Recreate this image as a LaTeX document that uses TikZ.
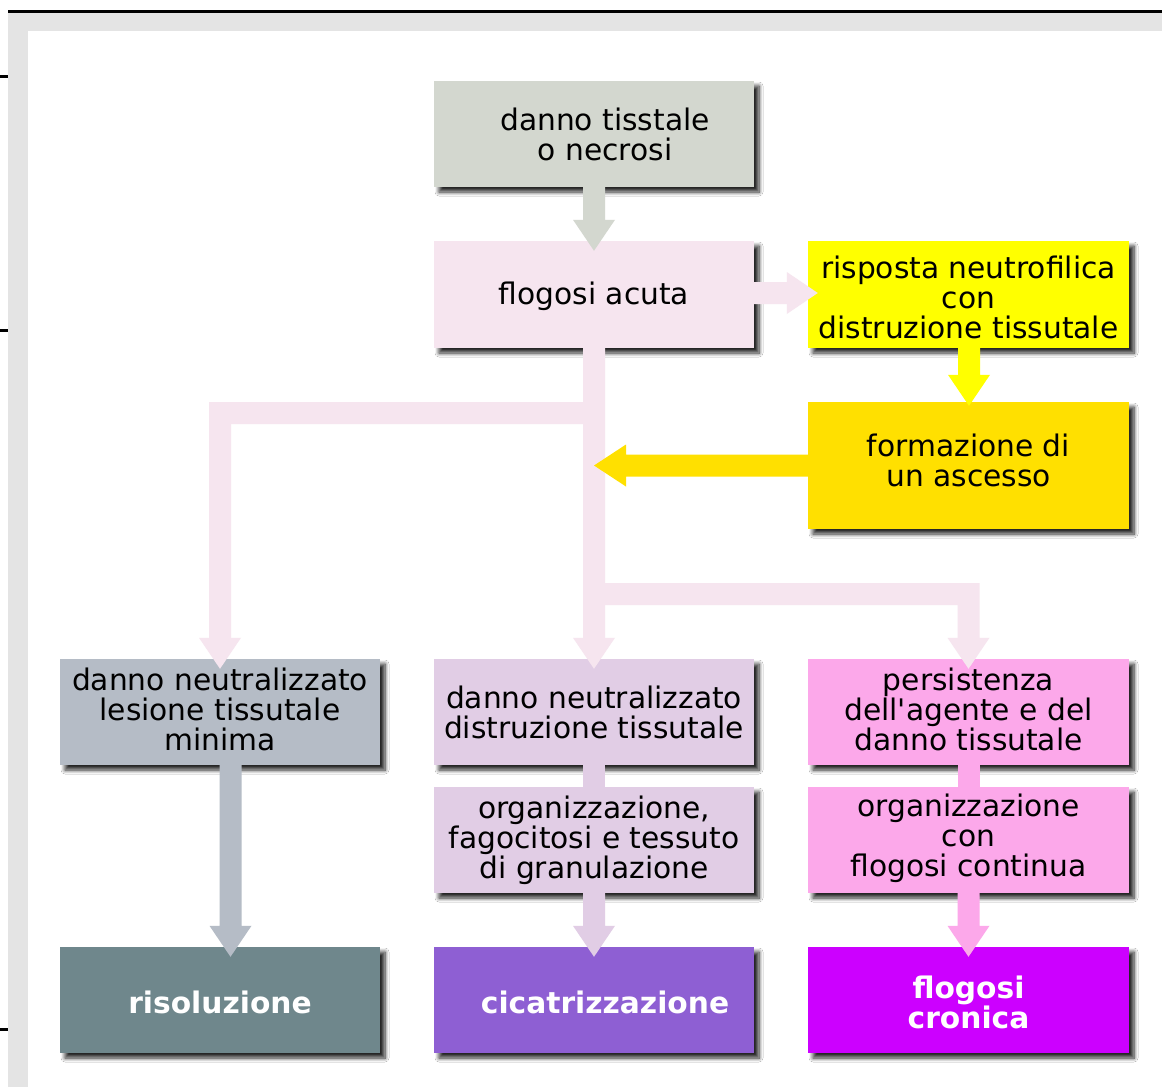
\documentclass[tikz,border=0pt]{standalone}
\usepackage{fontspec}
\setmainfont{DejaVu Sans}[Ligatures=TeXOff]
\usetikzlibrary{shadows.blur,calc}
\pgfdeclarelayer{shadowl}
\pgfdeclarelayer{front}
\pgfsetlayers{shadowl,main,front}
\definecolor{cBa}{HTML}{D3D7CF}
\definecolor{cBb}{HTML}{F6E5EF}
\definecolor{cBc}{HTML}{FFFF00}
\definecolor{cBd}{HTML}{FFE000}
\definecolor{cBe}{HTML}{B5BCC6}
\definecolor{cBf}{HTML}{E1CDE5}
\definecolor{cBg}{HTML}{FCA8EA}
\definecolor{cBj}{HTML}{6F878C}
\definecolor{cBk}{HTML}{8E5FD3}
\definecolor{cBl}{HTML}{CC00FF}
\definecolor{framegrey}{HTML}{E4E4E4}
% vertical block arrow: style, start (shaft centre), tip
\newcommand\blockdown[3]{\path[#1] let \p1=(#2), \p2=(#3) in
  (\x1-11pt,\y1) -- (\x1-11pt,\y2+31pt) -- (\x1-21pt,\y2+31pt) -- (\x1,\y2)
  -- (\x1+21pt,\y2+31pt) -- (\x1+11pt,\y2+31pt) -- (\x1+11pt,\y1) -- cycle;}
\newcommand\blockright[3]{\path[#1] let \p1=(#2), \p2=(#3) in
  (\x1,\y1+11pt) -- (\x2-31pt,\y1+11pt) -- (\x2-31pt,\y1+21pt) -- (\x2,\y1)
  -- (\x2-31pt,\y1-21pt) -- (\x2-31pt,\y1-11pt) -- (\x1,\y1-11pt) -- cycle;}
\newcommand\blockleft[3]{\path[#1] let \p1=(#2), \p2=(#3) in
  (\x1,\y1+11pt) -- (\x2+32pt,\y1+11pt) -- (\x2+32pt,\y1+21pt) -- (\x2,\y1)
  -- (\x2+32pt,\y1-21pt) -- (\x2+32pt,\y1-11pt) -- (\x1,\y1-11pt) -- cycle;}
\newcommand\branchleft[3]{\path[#1] let \p1=(#2), \p2=(#3) in
  (\x1-11pt,\y1+11pt) -- (\x2-11pt,\y1+11pt) -- (\x2-11pt,\y2+31pt) -- (\x2-21pt,\y2+31pt)
  -- (\x2,\y2) -- (\x2+21pt,\y2+31pt) -- (\x2+11pt,\y2+31pt) -- (\x2+11pt,\y1-11pt)
  -- (\x1-11pt,\y1-11pt) -- cycle;}
\newcommand\branchright[3]{\path[#1] let \p1=(#2), \p2=(#3) in
  (\x1+11pt,\y1+11pt) -- (\x2+11pt,\y1+11pt) -- (\x2+11pt,\y2+31pt) -- (\x2+21pt,\y2+31pt)
  -- (\x2,\y2) -- (\x2-21pt,\y2+31pt) -- (\x2-11pt,\y2+31pt) -- (\x2-11pt,\y1-11pt)
  -- (\x1+11pt,\y1-11pt) -- cycle;}
\newcommand\blockbar[3]{\path[#1] let \p1=(#2), \p2=(#3) in
  (\x1-11pt,\y1) rectangle (\x1+11pt,\y2);}
\newcommand\allarrows{%
  \blockdown{ar=cBa}{b1.south}{[yshift=-10pt]b2.north}
  \blockright{ar=cBb}{[yshift=1.5pt]b2.east}{[xshift=10pt,yshift=1.5pt]b3.west}
  \blockdown{ar=cBc}{[xshift=0.5pt]b3.south}{[xshift=0.5pt,yshift=-4pt]b4.north}
  \branchleft{ar=cBb}{s1}{[yshift=-10pt]b5.north}
  \branchright{ar=cBb}{s2}{[yshift=-10pt]b7.north}
  \blockdown{ar=cBb}{b2.south}{[yshift=-10pt]b6.north}
  \blockleft{ar=cBd}{b4.west}{b4.west -| b2.south}
  \blockdown{ar=cBe}{[xshift=10.5pt]b5.south}{[xshift=10.5pt,yshift=-10pt]b10.north}
  \blockbar{ar=cBf}{b6.south}{b8.north}
  \blockdown{ar=cBf}{b8.south}{[yshift=-10pt]b11.north}
  \blockbar{ar=cBg}{b7.south}{b9.north}
  \blockdown{ar=cBg}{b9.south}{[yshift=-10pt]b12.north}
}
\begin{document}
\begin{tikzpicture}[x=1pt,y=-1pt,
  shd/.style={blur shadow={shadow xshift=5pt,shadow yshift=-5pt,shadow blur radius=4pt,shadow blur steps=8,shadow opacity=85}},
  box/.style={rectangle,minimum width=320pt,minimum height=106pt,inner sep=0pt,shd},
  txt/.style={inner sep=0pt,align=center,font=\fontsize{29.7pt}{30pt}\selectfont,text=black},
  endtxt/.style={txt,text=white,font=\fontsize{29.7pt}{30pt}\selectfont\bfseries}]
\useasboundingbox (0,0) rectangle (1162,1087);
% frame
\fill[white] (0,0) rectangle (1162,1087);
\fill[framegrey] (8,13) rectangle (1162,1087);
\fill[white] (28,31) rectangle (1162,1087);
\fill[black] (8,10) rectangle (1162,13.3);
\fill[black] (0,75) rectangle (8,78);
\fill[black] (0,329) rectangle (8,332);
\fill[black] (0,1027.5) rectangle (8,1030.5);

% boxes
\node[box,fill=cBa] (b1) at (594,134) {};
\node[box,fill=cBb,minimum height=107pt] (b2) at (594,294.5) {};
\node[box,fill=cBc,minimum width=321pt,minimum height=107pt] (b3) at (968.5,294.5) {};
\node[box,fill=cBd,minimum width=321pt,minimum height=127pt] (b4) at (968.5,465.5) {};
\node[box,fill=cBe] (b5) at (220,712) {};
\node[box,fill=cBf] (b6) at (594,712) {};
\node[box,fill=cBg,minimum width=321pt] (b7) at (968.5,712) {};
\node[box,fill=cBf] (b8) at (594,840) {};
\node[box,fill=cBg,minimum width=321pt] (b9) at (968.5,840) {};
\node[box,fill=cBj] (b10) at (220,1000) {};
\node[box,fill=cBk] (b11) at (594,1000) {};
\node[box,fill=cBl,minimum width=321pt] (b12) at (968.5,1000) {};

% texts
\node[txt] (t1) at ([xshift=11pt]b1.center) {danno tisstale\\o necrosi};
\node[txt] (t2) at ([yshift=-2pt]b2.center) {flogosi acuta};
\node[txt] (t3) at ([yshift=-3pt]b3.center) {risposta neutrofilica\\con\\distruzione tissutale};
\node[txt] (t4) at ([yshift=5pt]b4.center) {formazione di\\un ascesso};
\node[txt] (t5) at ([yshift=3pt]b5.center) {danno neutralizzato\\lesione tissutale\\minima};
\node[txt] (t6) at (b6.center) {danno neutralizzato\\distruzione tissutale};
\node[txt] (t7) at ([yshift=3pt]b7.center) {persistenza\\dell'agente e del\\danno tissutale};
\node[txt] (t8) at (b8.center) {organizzazione,\\fagocitosi e tessuto\\di granulazione};
\node[txt] (t9) at ([yshift=2pt]b9.center) {organizzazione\\con\\flogosi continua};
\node[endtxt] (t10) at ([yshift=-2pt]b10.center) {risoluzione};
\node[endtxt] (t11) at ([xshift=11pt,yshift=-2pt]b11.center) {cicatrizzazione};
\node[endtxt] (t12) at ([yshift=-2pt]b12.center) {flogosi\\cronica};

\coordinate (s1) at (594,413);
\coordinate (s2) at (594,594);

\begin{pgfonlayer}{shadowl}
  \tikzset{ar/.style={shd}}
  \allarrows
\end{pgfonlayer}
\begin{pgfonlayer}{front}
  \tikzset{ar/.style={fill=#1}}
  \allarrows
\end{pgfonlayer}
\end{tikzpicture}
\end{document}
